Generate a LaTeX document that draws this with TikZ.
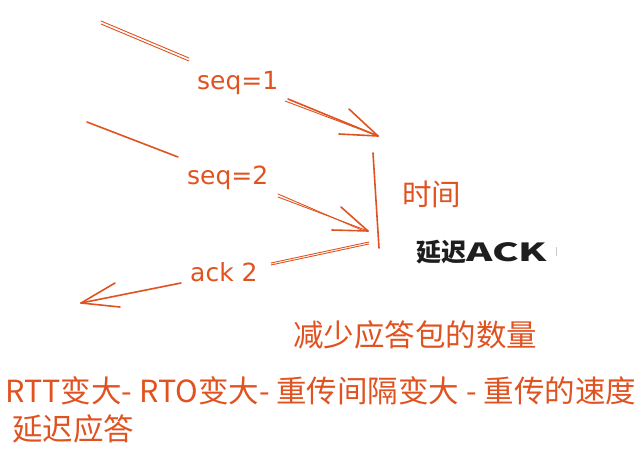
\documentclass[tikz,border=0pt]{standalone}
\usepackage{fontspec}
\setmainfont{DejaVu Sans}
\newfontfamily\cjk{Noto Sans CJK SC}
\definecolor{sketch}{RGB}{224,82,32}
\definecolor{inkdark}{RGB}{30,30,30}
\tikzset{
  stroke/.style={draw=sketch, line width=1.6pt, line cap=round},
  thin stroke/.style={draw=sketch, line width=0.9pt, line cap=round},
  lbl/.style={inner sep=0pt, anchor=base west, text=sketch, font=\fontsize{25}{29}\selectfont},
  cjklbl/.style={inner sep=0pt, anchor=base west, text=sketch, font=\cjk\fontsize{30.5}{34}\selectfont},
}
\begin{document}
\begin{tikzpicture}[x=1pt,y=-1pt]
\useasboundingbox (0,0) rectangle (641,466);
% labels
\node[lbl] (s1) at (197,89) {seq=1};
\node[lbl] (s2) at (187,184) {seq=2};
\node[lbl] (a2) at (190,281) {ack 2};
\node[cjklbl, font=\cjk\fontsize{29.5}{33}\selectfont] (time) at (402,205) {时间};
\node[inner sep=0pt, anchor=base west, text=inkdark, font=\cjk\bfseries\fontsize{25}{28}\selectfont] (delay) at (416,261) {延迟\scalebox{1.6}[1]{ACK}};
\node[cjklbl] (less) at (293,346) {减少应答包的数量};
\node[cjklbl] (rtt) at (5,402) {RTT变大- RTO变大- 重传间隔变大 - 重传的速度};
\node[cjklbl] (da) at (12,440) {延迟应答};
% coordinates
\coordinate (l1a) at (101,24);
\coordinate (l1b) at (189,61);
\coordinate (r1a) at (288,99);
\coordinate (t1) at (378,136);
\coordinate (b1a) at (349,109);
\coordinate (b1b) at (339,134);
\coordinate (l2a) at (87,122);
\coordinate (l2b) at (178,157);
\coordinate (r2a) at (278,197);
\coordinate (t2) at (368,231);
\coordinate (b2a) at (341,207);
\coordinate (b2b) at (332,230);
\coordinate (vt) at (373,153);
\coordinate (vb) at (379,248);
\coordinate (ka) at (369,244);
\coordinate (kb) at (271,265);
\coordinate (kc) at (181,283);
\coordinate (t3) at (81,303);
\coordinate (b3a) at (115,283);
\coordinate (b3b) at (120,307);
\coordinate (tk1) at (556,247);
\coordinate (tk2) at (556,256);
% seq=1 message
\draw[thin stroke] (l1a) -- (l1b);
\draw[thin stroke] ([yshift=3pt]l1a) -- ([yshift=3pt]l1b);
\draw[stroke] (r1a) -- (t1);
\draw[thin stroke] ([shift={(-3pt,-2pt)}]r1a) -- (t1);
\draw[stroke] (b1a) -- (t1);
\draw[stroke] (b1b) -- (t1);
% seq=2 message
\draw[stroke] (l2a) -- (l2b);
\draw[thin stroke] (r2a) -- (t2);
\draw[thin stroke] ([yshift=3pt]r2a) -- ([xshift=-4pt]t2);
\draw[stroke] (b2a) -- (t2);
\draw[stroke] (b2b) -- (t2);
% time line
\draw[stroke] (vt) -- (vb);
% ack
\draw[thin stroke] (ka) -- (kb);
\draw[thin stroke] ([yshift=2pt]ka) -- ([yshift=2pt]kb);
\draw[stroke] (kc) -- (t3);
\draw[stroke] (b3a) -- (t3);
\draw[stroke] (b3b) -- (t3);
% faint tick
\draw[gray!40, line width=1pt] (tk1) -- (tk2);
\end{tikzpicture}
\end{document}
